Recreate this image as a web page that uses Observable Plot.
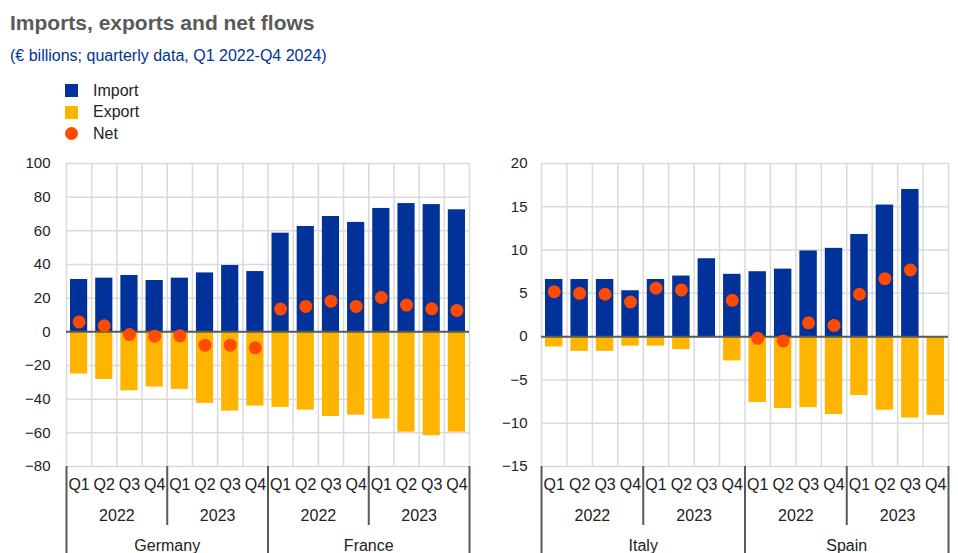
<!DOCTYPE html>
<html><head><meta charset="utf-8">
<script src="https://cdn.jsdelivr.net/npm/d3@7"></script>
<script src="https://cdn.jsdelivr.net/npm/@observablehq/plot@0.6"></script>
<style>
body{margin:0;background:#fff;font-family:Arial,"Liberation Sans",sans-serif;}
#page{position:relative;width:958px;height:553px;overflow:hidden;background:#fff;}
#title{position:absolute;left:10px;top:11px;font-size:21px;line-height:24px;font-weight:bold;color:#595959;white-space:nowrap;}
#subtitle{position:absolute;left:10px;top:47px;font-size:16px;line-height:18px;color:#003299;white-space:nowrap;}
#legend{position:absolute;left:65px;top:80px;font-size:16px;color:#222;}
.row{display:flex;align-items:center;height:21.5px;}
.sw{width:13px;height:13px;margin-right:15px;}
.dotsw{width:13px;height:13px;border-radius:50%;margin-right:15px;}
#charts{position:absolute;left:0;top:150px;display:flex;}
</style>
</head><body>
<div id="page">
  <div id="title">Imports, exports and net flows</div>
  <div id="subtitle">(€ billions; quarterly data, Q1 2022-Q4 2024)</div>
  <div id="legend"></div>
  <div id="charts"></div>
</div>
<script>
// ---- data ----
const quarters = ["Q1","Q2","Q3","Q4"];
const years = ["2022","2023"];
const countriesLeft = ["Germany","France"];
const countriesRight = ["Italy","Spain"];
const seriesNames = ["Import","Export","Net"];
const seriesColors = ["#003299","#ffb400","#ff4b00"];

const germanyImport = [31.1,31.9,33.5,30.5,31.9,35.0,39.4,35.8];
const germanyExport = [-25.1,-28.3,-35.0,-32.8,-34.2,-42.5,-47.1,-44.1];
const germanyNet    = [5.9,3.6,-1.6,-2.6,-2.4,-7.9,-7.9,-9.5];
const franceImport  = [58.6,62.6,68.5,65.0,73.3,76.2,75.6,72.5];
const franceExport  = [-44.9,-46.5,-50.3,-49.5,-51.8,-59.6,-61.7,-59.6];
const franceNet     = [13.5,15.1,18.2,15.1,20.4,15.9,13.7,12.7];
const italyImport   = [6.6,6.6,6.6,5.3,6.6,7.0,9.0,7.2];
const italyExport   = [-1.2,-1.7,-1.7,-1.1,-1.1,-1.5,null,-2.8];
const italyNet      = [5.2,5.0,4.9,4.0,5.6,5.4,null,4.2];
const spainImport   = [7.5,7.8,9.9,10.2,11.8,15.2,17.0,null];
const spainExport   = [-7.6,-8.3,-8.2,-9.0,-6.8,-8.5,-9.4,-9.1];
const spainNet      = [-0.2,-0.5,1.6,1.3,4.9,6.7,7.7,null];

const leftTicks = [-80,-60,-40,-20,0,20,40,60,80,100];
const rightTicks = [-15,-10,-5,0,5,10,15,20];

// ---- legend ----
const leg = document.getElementById("legend");
seriesNames.forEach((n,i)=>{
  const r = document.createElement("div"); r.className="row";
  const s = document.createElement("div"); s.className = i===2 ? "dotsw" : "sw"; s.style.background = seriesColors[i];
  const t = document.createElement("span"); t.textContent = n;
  r.appendChild(s); r.appendChild(t); leg.appendChild(r);
});

// ---- chart ----
function chart({countries, series, yDomain, yTicks, marginLeft, tickPadding}) {
  const rows = [];
  countries.forEach((c, ci) => years.forEach((y, yi) => quarters.forEach((q, qi) => {
    const k = yi*4 + qi;
    rows.push({pos: ci*8 + k, country: c, year: y, quarter: q,
      imp: series[ci][0][k], exp: series[ci][1][k], net: series[ci][2][k]});
  })));
  const yearLabels = [];
  countries.forEach((c,ci)=>years.forEach((y,yi)=>yearLabels.push({pos: ci*8 + yi*4 + 2, label: y})));
  const countryLabels = countries.map((c,ci)=>({pos: ci*8 + 4, label: c}));
  const yearSeps = countries.map((c,ci)=>ci*8 + 4);
  const countrySeps = d3.range(countries.length + 1).map(i => i*8);
  const n = rows.length;
  const W = 479, H = 403, mt = 13, mb = 87, mr = 10;
  const plotH = H - mt - mb;
  return Plot.plot({
    width: W, height: H, marginTop: mt, marginBottom: mb, marginLeft, marginRight: mr,
    style: {fontFamily: 'Arial, "Liberation Sans", sans-serif', fontSize: "16px", color: "#222", background: "#fff", overflow: "visible"},
    x: {domain: [0, n], axis: null},
    y: {domain: yDomain, axis: null},
    marks: [
      Plot.ruleY(yTicks, {stroke: "#dadada", strokeWidth: 1.5}),
      Plot.ruleX(d3.range(n + 1), {stroke: "#dadada", strokeWidth: 1.5}),
      Plot.rect(rows.filter(d => d.imp != null), {x1: "pos", x2: d => d.pos + 1, y1: 0, y2: "imp", fill: seriesColors[0], insetLeft: 4, insetRight: 4}),
      Plot.rect(rows.filter(d => d.exp != null), {x1: "pos", x2: d => d.pos + 1, y1: 0, y2: "exp", fill: seriesColors[1], insetLeft: 4, insetRight: 4}),
      Plot.ruleY([0], {stroke: "#595959", strokeWidth: 2}),
      Plot.dot(rows.filter(d => d.net != null), {x: d => d.pos + 0.5, y: "net", r: 6.5, fill: seriesColors[2]}),
      Plot.axisY(yTicks, {tickSize: 0, tickPadding, fontSize: 15}),
      Plot.ruleX(countrySeps, {stroke: "#595959", strokeWidth: 2, insetTop: plotH, insetBottom: -mb}),
      Plot.ruleX(yearSeps, {stroke: "#595959", strokeWidth: 2, insetTop: plotH, insetBottom: -59}),
      Plot.text(rows, {x: d => d.pos + 0.5, text: "quarter", frameAnchor: "bottom", lineAnchor: "middle", dy: 18, fontSize: 16}),
      Plot.text(yearLabels, {x: "pos", text: "label", frameAnchor: "bottom", lineAnchor: "middle", dy: 49, fontSize: 16}),
      Plot.text(countryLabels, {x: "pos", text: "label", frameAnchor: "bottom", lineAnchor: "middle", dy: 79, fontSize: 16})
    ]
  });
}

const charts = document.getElementById("charts");
charts.appendChild(chart({
  countries: countriesLeft,
  series: [[germanyImport, germanyExport, germanyNet], [franceImport, franceExport, franceNet]],
  yDomain: [-80, 100], yTicks: leftTicks, marginLeft: 66, tickPadding: 16
}));
charts.appendChild(chart({
  countries: countriesRight,
  series: [[italyImport, italyExport, italyNet], [spainImport, spainExport, spainNet]],
  yDomain: [-15, 20], yTicks: rightTicks, marginLeft: 62, tickPadding: 14
}));
</script>
</body></html>
